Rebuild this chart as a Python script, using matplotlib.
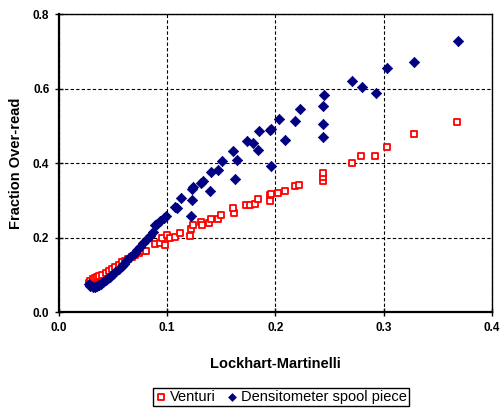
import matplotlib
matplotlib.use("Agg")
import matplotlib.pyplot as plt

# Venturi over-read vs Lockhart-Martinelli parameter
venturi_x = [0.028, 0.029, 0.031, 0.033, 0.035, 0.037, 0.040, 0.043, 0.046, 0.049,
             0.052, 0.055, 0.058, 0.061, 0.064, 0.067, 0.070, 0.074, 0.078, 0.080,
             0.089, 0.093, 0.095, 0.098, 0.100, 0.103, 0.107, 0.112, 0.121, 0.122,
             0.1235, 0.131, 0.1324, 0.139, 0.140, 0.147, 0.150, 0.162, 0.161, 0.1725,
             0.1766, 0.1815, 0.184, 0.195, 0.1947, 0.196, 0.2025, 0.209, 0.2176, 0.222,
             0.2435, 0.2435, 0.2435, 0.271, 0.2787, 0.2917, 0.3028, 0.328, 0.3676]
venturi_y = [0.078, 0.083, 0.088, 0.090, 0.093, 0.097, 0.100, 0.104, 0.110, 0.115,
             0.120, 0.127, 0.133, 0.138, 0.143, 0.148, 0.152, 0.158, 0.165, 0.163,
             0.182, 0.184, 0.198, 0.180, 0.207, 0.200, 0.202, 0.211, 0.205, 0.223,
             0.233, 0.241, 0.234, 0.238, 0.250, 0.249, 0.260, 0.266, 0.279, 0.287,
             0.287, 0.290, 0.304, 0.313, 0.298, 0.316, 0.320, 0.325, 0.337, 0.342,
             0.351, 0.362, 0.374, 0.400, 0.4175, 0.4175, 0.444, 0.477, 0.509]

# Densitometer spool piece over-read
spool_x = [0.028, 0.029, 0.031, 0.033, 0.035, 0.037, 0.039, 0.041, 0.043, 0.045,
           0.047, 0.050, 0.052, 0.055, 0.058, 0.060, 0.063, 0.066, 0.070, 0.072,
           0.075, 0.078, 0.081, 0.084, 0.087, 0.0886, 0.0907, 0.0935, 0.097, 0.099,
           0.1068, 0.109, 0.113, 0.1216, 0.123, 0.1225, 0.1238, 0.131, 0.1333, 0.1395,
           0.1407, 0.147, 0.151, 0.163, 0.161, 0.164, 0.174, 0.1796, 0.1836, 0.1846,
           0.195, 0.196, 0.196, 0.203, 0.209, 0.218, 0.223, 0.2435, 0.244, 0.244,
           0.2448, 0.271, 0.280, 0.293, 0.303, 0.328, 0.3685]
spool_y = [0.075, 0.070, 0.068, 0.068, 0.070, 0.072, 0.076, 0.080, 0.085, 0.090,
           0.095, 0.102, 0.108, 0.115, 0.123, 0.130, 0.140, 0.148, 0.158, 0.166,
           0.175, 0.186, 0.196, 0.205, 0.215, 0.233, 0.236, 0.244, 0.253, 0.259,
           0.281, 0.279, 0.307, 0.258, 0.302, 0.329, 0.335, 0.347, 0.353, 0.324,
           0.377, 0.382, 0.405, 0.356, 0.431, 0.409, 0.458, 0.453, 0.435, 0.485,
           0.489, 0.490, 0.393, 0.517, 0.463, 0.512, 0.544, 0.505, 0.469, 0.554,
           0.582, 0.620, 0.603, 0.587, 0.656, 0.672, 0.727]

x_ticks = [0.0, 0.1, 0.2, 0.3, 0.4]
y_ticks = [0.0, 0.2, 0.4, 0.6, 0.8]

plt.rcParams.update({
    "font.family": "Liberation Sans",
    "font.size": 8.5,
})

fig = plt.figure(figsize=(5.03, 4.12), dpi=100)
ax = fig.add_axes([0.1173, 0.2427, 0.8607, 0.7233])

ax.scatter(venturi_x, venturi_y, marker="s", s=24, facecolors="white",
           edgecolors="#ff0000", linewidths=1.3, label="Venturi", zorder=3)
ax.scatter(spool_x, spool_y, marker="D", s=28, color="#000080",
           edgecolors="#000080", linewidths=0.5,
           label="Densitometer spool piece", zorder=4)

ax.set_xlim(0, 0.4)
ax.set_ylim(0, 0.8)
ax.set_xticks(x_ticks)
ax.set_yticks(y_ticks)
ax.set_xticklabels([f"{v:.1f}" for v in x_ticks], fontweight="bold")
ax.set_yticklabels([f"{v:.1f}" for v in y_ticks], fontweight="bold")
ax.tick_params(direction="inout", length=6, width=1.0, pad=4, labelsize=8.5)
ax.grid(True, color="black", linestyle=(0, (3, 2)), linewidth=0.8)
ax.set_axisbelow(True)

for side in ("left", "bottom"):
    ax.spines[side].set_linewidth(1.6)
for side in ("top", "right"):
    ax.spines[side].set_linewidth(1.0)

ax.set_xlabel("Lockhart-Martinelli", fontweight="bold", fontsize=10.5, labelpad=17)
ax.set_ylabel("Fraction Over-read", fontweight="bold", fontsize=10.5, labelpad=7)

leg = fig.legend(loc="lower center", bbox_to_anchor=(0.558, 0.0146), ncol=2,
                 fancybox=False, edgecolor="black", framealpha=1,
                 fontsize=10.5, handletextpad=0.2, columnspacing=0.6,
                 borderpad=0.12, handlelength=0.9, markerscale=0.75,
                 borderaxespad=0)
leg.get_frame().set_linewidth(1.0)

fig.savefig("out.png", dpi=100)
